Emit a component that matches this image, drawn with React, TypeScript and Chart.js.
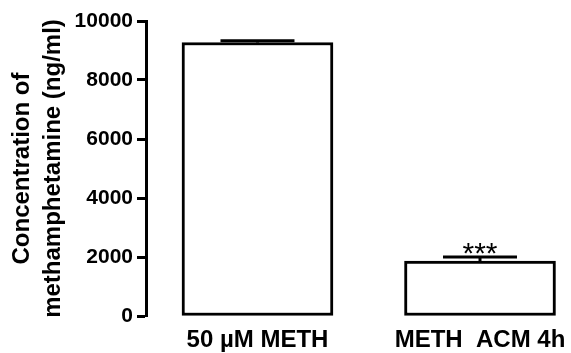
import React, { useEffect, useRef } from "react";
import { Chart, registerables } from "chart.js";

Chart.register(...registerables);

const categories = ["50 \u00B5M METH", "METH  ACM 4h"];
const means = [9270, 1864];
const semUpper = [60, 136];
const significance = ["", "***"];
const yTicks = [0, 2000, 4000, 6000, 8000, 10000];

const FONT = 'Arial, "Liberation Sans", Helvetica, sans-serif';

const errorBarPlugin = {
  id: "errorBars",
  afterDatasetsDraw(chart: any) {
    const ctx = chart.ctx;
    const meta = chart.getDatasetMeta(0);
    const yScale = chart.scales.y;
    ctx.save();
    ctx.strokeStyle = "#000";
    ctx.fillStyle = "#000";
    ctx.lineWidth = 3;
    meta.data.forEach((bar: any, i: number) => {
      const x = bar.x;
      const yTop = yScale.getPixelForValue(means[i] + semUpper[i]);
      const yBar = bar.y;
      const half = bar.width * 0.245;
      ctx.beginPath();
      ctx.moveTo(x, yBar);
      ctx.lineTo(x, yTop);
      ctx.stroke();
      ctx.beginPath();
      ctx.moveTo(x - half, yTop);
      ctx.lineTo(x + half, yTop);
      ctx.stroke();
      if (significance[i]) {
        ctx.font = `30px ${FONT}`;
        ctx.textAlign = "center";
        ctx.textBaseline = "alphabetic";
        ctx.fillText(significance[i], x, yTop + 6);
      }
    });
    ctx.restore();
  },
};

export default function App() {
  const ref = useRef<HTMLCanvasElement | null>(null);

  useEffect(() => {
    if (!ref.current) return;
    const chart = new Chart(ref.current, {
      type: "bar",
      data: {
        datasets: [
          {
            data: means.map((v, i) => ({ x: i, y: v })),
            backgroundColor: "#fff",
            borderColor: "#000",
            borderWidth: 3,
            borderSkipped: false,
            barThickness: 151,
          } as any,
        ],
      },
      options: {
        responsive: false,
        animation: false,
        layout: { padding: { top: 21, right: 10, left: 0, bottom: 0 } },
        plugins: { legend: { display: false }, tooltip: { enabled: false } },
        scales: {
          x: {
            type: "linear",
            offset: false,
            min: -0.501,
            max: 1.364,
            grid: { display: false, drawTicks: false },
            border: { display: false },
            afterBuildTicks: (scale: any) => {
              scale.ticks = categories.map((_, i) => ({ value: i }));
            },
            afterFit: (scale: any) => {
              scale.height = 37;
              scale.paddingLeft = 0;
              scale.paddingRight = 0;
            },
            ticks: {
              autoSkip: false,
              maxRotation: 0,
              padding: 10,
              color: "#000",
              font: { family: FONT, size: 24, weight: "bold" },
              callback: (v: any) => categories[Math.round(Number(v))] ?? "",
            },
          },
          y: {
            min: 0,
            max: 10000,
            afterBuildTicks: (scale: any) => {
              scale.ticks = yTicks.map((v) => ({ value: v }));
            },
            afterFit: (scale: any) => {
              scale.width = 146;
            },
            grid: {
              drawOnChartArea: false,
              drawTicks: true,
              tickLength: 9,
              tickWidth: 3,
              color: "#000",
            },
            border: { display: true, width: 3, color: "#000" },
            ticks: {
              padding: 4,
              color: "#000",
              font: { family: FONT, size: 21, weight: "bold" },
              callback: (v: any) => String(v),
            },
            title: {
              display: true,
              text: ["Concentration of", "methamphetamine (ng/ml)"],
              color: "#000",
              font: { family: FONT, size: 24, weight: "bold", lineHeight: 1.3 },
              padding: { top: 7, bottom: 0 },
            },
          },
        },
      },
      plugins: [errorBarPlugin],
    } as any);
    return () => chart.destroy();
  }, []);

  return (
    <div style={{ position: "absolute", left: 0, top: 0, width: 571, height: 353, background: "#fff" }}>
      <canvas ref={ref} width={571} height={353} />
    </div>
  );
}
